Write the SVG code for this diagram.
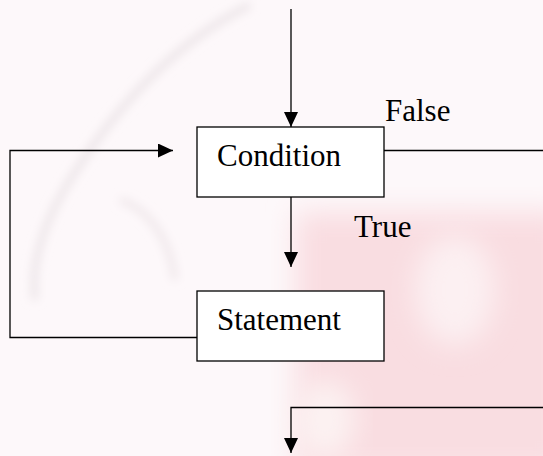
<svg xmlns="http://www.w3.org/2000/svg" width="543" height="456" viewBox="0 0 543 456">
  <style>
    .box { fill: #ffffff; stroke: #000000; stroke-width: 1.3; }
    .wire { fill: none; stroke: #000000; stroke-width: 1.3; }
    .label { font-family: "Liberation Serif", "Times New Roman", serif; font-size: 31px; fill: #000000; }
  </style>
  <defs>
    <marker id="arrow" viewBox="0 0 15 14" refX="15" refY="7" markerWidth="15" markerHeight="14" markerUnits="userSpaceOnUse" orient="auto">
      <path d="M0,0 L15,7 L0,14 Z" fill="#000000"/>
    </marker>
    <filter id="soft" x="-30%" y="-30%" width="160%" height="160%">
      <feGaussianBlur stdDeviation="14"/>
    </filter>
    <filter id="softer" x="-20%" y="-20%" width="140%" height="140%">
      <feGaussianBlur stdDeviation="5"/>
    </filter>
  </defs>

  <!-- faint pink backdrop -->
  <g id="backdrop">
    <rect x="0" y="0" width="543" height="456" fill="#fdf8fa"/>
    <rect x="296" y="212" width="270" height="260" fill="#f9dde1" filter="url(#soft)"/>
    <ellipse cx="455" cy="290" rx="40" ry="55" fill="#fcf0f2" filter="url(#soft)"/>
    <ellipse cx="325" cy="420" rx="30" ry="40" fill="#fcf2f2" filter="url(#soft)"/>
    <path d="M250,5 C180,40 120,100 70,180 C45,220 30,260 35,300" fill="none" stroke="#ece5e8" stroke-width="7" filter="url(#softer)"/>
    <path d="M120,200 C150,210 170,240 175,280" fill="none" stroke="#f0e8eb" stroke-width="7" filter="url(#softer)"/>
  </g>

  <!-- connectors -->
  <g id="connectors">
    <line class="wire" x1="291" y1="9" x2="291" y2="127" marker-end="url(#arrow)"/>
    <line class="wire" x1="291" y1="197" x2="291" y2="267" marker-end="url(#arrow)"/>
    <polyline class="wire" points="197,337.5 10,337.5 10,150.5 173,150.5" marker-end="url(#arrow)"/>
    <line class="wire" x1="384" y1="150.5" x2="543" y2="150.5"/>
    <polyline class="wire" points="543,407.5 291,407.5 291,453" marker-end="url(#arrow)"/>
    <text class="label" x="385" y="121">False</text>
    <text class="label" x="354" y="237">True</text>
  </g>

  <g id="condition">
    <rect class="box" x="197" y="127" width="187" height="70"/>
    <text class="label" x="217" y="166">Condition</text>
  </g>

  <g id="statement">
    <rect class="box" x="197" y="291" width="187" height="70"/>
    <text class="label" x="217" y="330">Statement</text>
  </g>
</svg>
